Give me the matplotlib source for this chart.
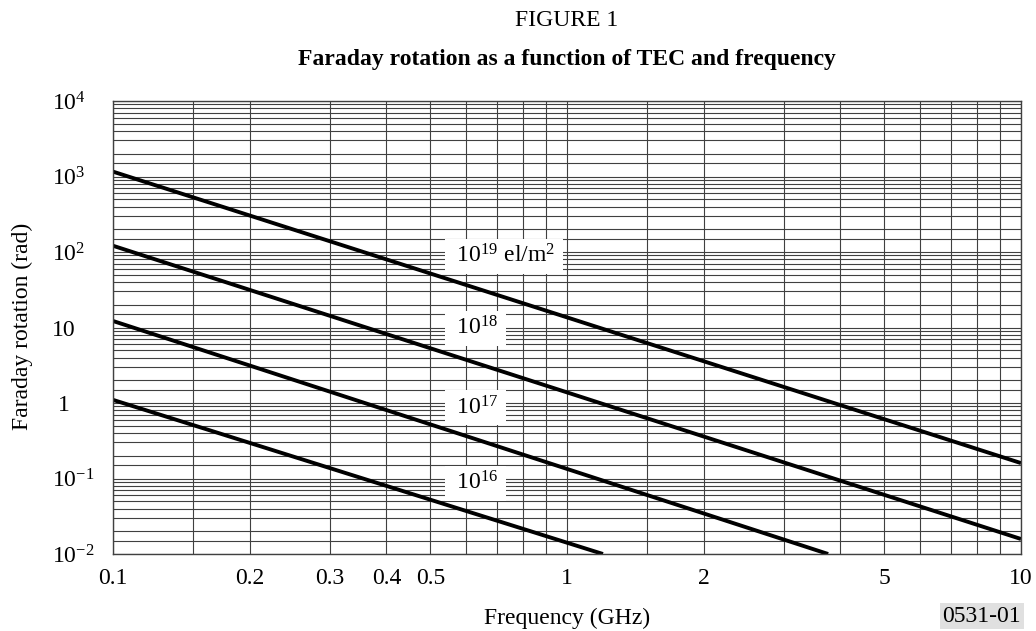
import numpy as np
import matplotlib
matplotlib.use('Agg')
import matplotlib.pyplot as plt
from matplotlib.ticker import FixedLocator, NullFormatter
from matplotlib.transforms import ScaledTranslation

plt.rcParams['font.family'] = ['Liberation Serif', 'DejaVu Serif']
plt.rcParams['mathtext.fontset'] = 'custom'
plt.rcParams['mathtext.rm'] = 'Liberation Serif'
plt.rcParams['mathtext.default'] = 'regular'

# line end points (GHz, rad)
tec_labels = ['10$^{16}$', '10$^{17}$', '10$^{18}$', '10$^{19}$ el/m$^{2}$']
freq_start = [0.1, 0.1, 0.1, 0.1]
rot_start = [1.1, 12.2, 121, 1160]
freq_end = [1.2, 3.76, 10, 10]
rot_end = [0.01, 0.01, 0.0158, 0.16]
label_x = [0.555, 0.555, 0.555, 0.555]
label_y = [0.087, 0.87, 9.8, 88]

x_ticks = [0.1, 0.2, 0.3, 0.4, 0.5, 1, 2, 5, 10]
x_ticklabels = ['0.1', '0.2', '0.3', '0.4', '0.5', '1', '2', '5', '10']
y_ticks = [1e-2, 1e-1, 1, 10, 1e2, 1e3, 1e4]
y_ticklabels = ['10$^{-2}$', '10$^{-1}$', '1', '10', '10$^{2}$', '10$^{3}$', '10$^{4}$']
grid_subs = [1, 1.5, 2, 3, 4, 5, 6, 7, 8, 9]

fs = 17

fig = plt.figure(figsize=(10.36, 6.31), dpi=100)
ax = fig.add_axes([113/1036, 1 - 554/631, 908/1036, 453/631])

for i in range(len(tec_labels)):
    ax.plot([freq_start[i], freq_end[i]], [rot_start[i], rot_end[i]],
            color='black', lw=2.8, solid_capstyle='butt', zorder=2)
    ax.text(label_x[i], label_y[i], ' ' + tec_labels[i] + ' ', fontsize=fs,
            ha='left', va='center', zorder=3,
            bbox=dict(boxstyle='square,pad=0.25', fc='white', ec='none'))

ax.set_xscale('log')
ax.set_yscale('log')
ax.set_xlim(0.1, 10)
ax.set_ylim(1e-2, 1e4)

xgrid = [s * 10.0 ** d for d in (-1, 0) for s in grid_subs]
ygrid = [s * 10.0 ** d for d in range(-2, 4) for s in grid_subs]
ax.xaxis.set_major_locator(FixedLocator(x_ticks))
ax.xaxis.set_minor_locator(FixedLocator(xgrid))
ax.yaxis.set_major_locator(FixedLocator(y_ticks))
ax.yaxis.set_minor_locator(FixedLocator(ygrid))
ax.xaxis.set_minor_formatter(NullFormatter())
ax.yaxis.set_minor_formatter(NullFormatter())
ax.set_xticklabels(x_ticklabels)
ax.set_yticklabels(y_ticklabels)

ax.tick_params(which='both', length=0, labelsize=fs)
ax.tick_params(axis='x', pad=10)
ax.tick_params(axis='y', pad=44)
for lab in ax.get_yticklabels():
    lab.set_horizontalalignment('left')
    if lab.get_text() == '1':
        # the lone "1" sits centred under the "10" of the other labels
        lab.set_transform(lab.get_transform() + ScaledTranslation(0.065, 0, fig.dpi_scale_trans))

ax.grid(which='both', color='0.25', lw=0.8)
for sp in ax.spines.values():
    sp.set_color('0.25')
    sp.set_linewidth(1.0)

fig.text(567/1036, 1 - 20/631, 'FIGURE 1', ha='center', va='center', fontsize=fs)
fig.text(567/1036, 1 - 60/631, 'Faraday rotation as a function of TEC and frequency',
         ha='center', va='center', fontsize=fs, fontweight='bold')
fig.text(22/1036, 1 - 326/631, 'Faraday rotation (rad)', rotation=90,
         ha='center', va='center', fontsize=fs)
fig.text(567/1036, 1 - 618/631, 'Frequency (GHz)', ha='center', va='center', fontsize=fs)
fig.text(1021/1036, 1 - 616/631, '0531-01', ha='right', va='center', fontsize=fs,
         bbox=dict(boxstyle='square,pad=0.12', fc='#e0e0e0', ec='none'))

fig.savefig('out.png', dpi=100)
